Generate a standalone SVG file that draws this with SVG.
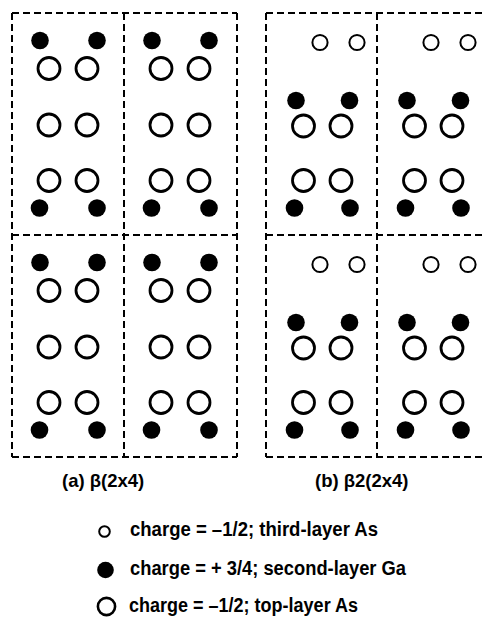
<svg xmlns="http://www.w3.org/2000/svg" xmlns:xlink="http://www.w3.org/1999/xlink" width="484" height="618" viewBox="0 0 484 618">
  <style>
    .cell { fill: none; stroke: #000; stroke-width: 2; stroke-dasharray: 7 4; }
    .top { fill: #fff; stroke: #000; stroke-width: 2.8; }
    .third { fill: #fff; stroke: #000; stroke-width: 2; }
    .ga { fill: #000; }
    .lbl { font-family: "Liberation Sans", Arial, sans-serif; font-weight: bold; font-size: 18.5px; fill: #000; }
    .key { font-family: "Liberation Sans", Arial, sans-serif; font-weight: bold; font-size: 19.5px; fill: #000; }
  </style>
  <defs>
    <!-- beta(2x4) unit cell: two Ga rows, three top-layer As dimers -->
    <g id="cellA">
      <circle class="ga" cx="28" cy="27.5" r="8.8"/>
      <circle class="ga" cx="85" cy="27.5" r="8.8"/>
      <circle class="top" cx="37" cy="55.5" r="11"/>
      <circle class="top" cx="75" cy="55.5" r="11"/>
      <circle class="top" cx="37" cy="112" r="11"/>
      <circle class="top" cx="75" cy="112" r="11"/>
      <circle class="top" cx="37" cy="167.5" r="11"/>
      <circle class="top" cx="75" cy="167.5" r="11"/>
      <circle class="ga" cx="27.5" cy="195" r="8.8"/>
      <circle class="ga" cx="85" cy="195" r="8.8"/>
    </g>
    <!-- beta2(2x4) unit cell: third-layer As dimer in the trench -->
    <g id="cellB">
      <circle class="third" cx="54" cy="29.5" r="7.6"/>
      <circle class="third" cx="91" cy="29.5" r="7.6"/>
      <circle class="ga" cx="30" cy="87.5" r="8.8"/>
      <circle class="ga" cx="83.5" cy="87.5" r="8.8"/>
      <circle class="top" cx="37.5" cy="113" r="11"/>
      <circle class="top" cx="75" cy="113" r="11"/>
      <circle class="top" cx="37.5" cy="167.5" r="11"/>
      <circle class="top" cx="75" cy="167.5" r="11"/>
      <circle class="ga" cx="28.5" cy="195" r="8.8"/>
      <circle class="ga" cx="84" cy="195" r="8.8"/>
    </g>
  </defs>

  <!-- (a) beta(2x4) -->
  <g id="panel-a">
    <g id="a-grid">
      <line class="cell" x1="12" y1="13" x2="237" y2="13"/>
      <line class="cell" x1="12" y1="235" x2="237" y2="235"/>
      <line class="cell" x1="12" y1="457" x2="237" y2="457"/>
      <line class="cell" x1="12" y1="13" x2="12" y2="457"/>
      <line class="cell" x1="124" y1="13" x2="124" y2="457"/>
      <line class="cell" x1="237" y1="13" x2="237" y2="457"/>
    </g>
    <g id="a-cell-1"><use xlink:href="#cellA" x="12" y="13"/></g>
    <g id="a-cell-2"><use xlink:href="#cellA" x="124" y="13"/></g>
    <g id="a-cell-3"><use xlink:href="#cellA" x="12" y="235"/></g>
    <g id="a-cell-4"><use xlink:href="#cellA" x="124" y="235"/></g>
    <text class="lbl" x="62" y="487">(a) β(2x4)</text>
  </g>

  <!-- (b) beta2(2x4) -->
  <g id="panel-b">
    <g id="b-grid">
      <line class="cell" x1="266" y1="13" x2="482" y2="13"/>
      <line class="cell" x1="266" y1="235" x2="482" y2="235"/>
      <line class="cell" x1="266" y1="457" x2="482" y2="457"/>
      <line class="cell" x1="266" y1="13" x2="266" y2="457"/>
      <line class="cell" x1="377" y1="13" x2="377" y2="457"/>
    </g>
    <g id="b-cell-1"><use xlink:href="#cellB" x="266" y="13"/></g>
    <g id="b-cell-2"><use xlink:href="#cellB" x="377" y="13"/></g>
    <g id="b-cell-3"><use xlink:href="#cellB" x="266" y="235"/></g>
    <g id="b-cell-4"><use xlink:href="#cellB" x="377" y="235"/></g>
    <text class="lbl" x="315" y="487">(b) β2(2x4)</text>
  </g>

  <!-- legend -->
  <g id="legend">
    <g id="key-third">
      <circle class="third" cx="104.5" cy="531.5" r="5.3"/>
      <text class="key" x="130" y="536" textLength="248" lengthAdjust="spacingAndGlyphs">charge = –1/2; third-layer As</text>
    </g>
    <g id="key-ga">
      <circle class="ga" cx="105.5" cy="570" r="8.3"/>
      <text class="key" x="130" y="574.5" textLength="276" lengthAdjust="spacingAndGlyphs">charge = + 3/4; second-layer Ga</text>
    </g>
    <g id="key-top">
      <circle class="top" cx="106.5" cy="606.5" r="8.6" style="stroke-width:2.6"/>
      <text class="key" x="129" y="612" textLength="229" lengthAdjust="spacingAndGlyphs">charge = –1/2; top-layer As</text>
    </g>
  </g>
</svg>
